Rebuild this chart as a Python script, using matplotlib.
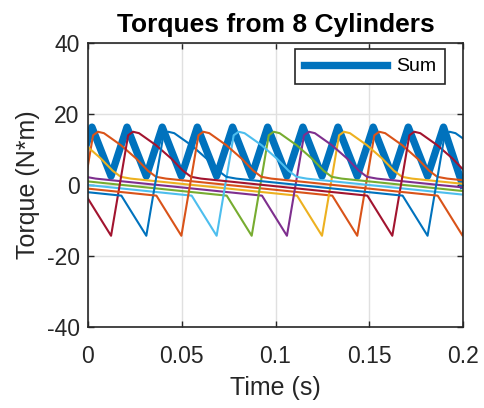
import numpy as np
import matplotlib
matplotlib.use('Agg')
import matplotlib.pyplot as plt

# MATLAB default colour order
colrs = [(0, 0.447, 0.741), (0.85, 0.325, 0.098), (0.929, 0.694, 0.125),
         (0.494, 0.184, 0.556), (0.466, 0.674, 0.188), (0.301, 0.745, 0.933),
         (0.635, 0.078, 0.184)]

# vertices (time in s, torque in N*m)
t_c1 = [-0.0197, -0.0064, 0.0027, 0.0053, 0.0085, 0.0176, 0.0256, 0.0320, 0.0363, 0.0416,
        0.1303, 0.1436, 0.1527, 0.1553, 0.1585, 0.1676, 0.1756, 0.1820, 0.1863, 0.1916, 0.2803]
v_c1 = [-3.0, -14.3, 14.0, 15.0, 14.6, 11.2, 7.5, 4.0, 2.3, 1.8,
        -3.0, -14.3, 14.0, 15.0, 14.6, 11.2, 7.5, 4.0, 2.3, 1.8, -3.0]
t_c2 = [-0.0103, -0.0012, 0.0068, 0.0132, 0.0175, 0.0228, 0.1115, 0.1248, 0.1339, 0.1365,
        0.1397, 0.1488, 0.1568, 0.1632, 0.1675, 0.1728, 0.2615]
v_c2 = [14.6, 11.2, 7.5, 4.0, 2.3, 1.8, -3.0, -14.3, 14.0, 15.0,
        14.6, 11.2, 7.5, 4.0, 2.3, 1.8, -3.0]
t_c3 = [-0.0055, -0.0012, 0.0041, 0.0928, 0.1061, 0.1152, 0.1178, 0.1210, 0.1301, 0.1381,
        0.1445, 0.1488, 0.1541, 0.2428]
v_c3 = [4.0, 2.3, 1.8, -3.0, -14.3, 14.0, 15.0, 14.6, 11.2, 7.5, 4.0, 2.3, 1.8, -3.0]
t_c4 = [-0.0147, 0.0740, 0.0873, 0.0964, 0.0990, 0.1022, 0.1113, 0.1193, 0.1257, 0.1300,
        0.1353, 0.2240]
v_c4 = [1.8, -3.0, -14.3, 14.0, 15.0, 14.6, 11.2, 7.5, 4.0, 2.3, 1.8, -3.0]
t_c5 = [-0.0334, 0.0553, 0.0686, 0.0777, 0.0803, 0.0835, 0.0926, 0.1006, 0.1070, 0.1113,
        0.1166, 0.2053]
v_c5 = [1.8, -3.0, -14.3, 14.0, 15.0, 14.6, 11.2, 7.5, 4.0, 2.3, 1.8, -3.0]
t_c6 = [-0.0010, 0.0123, 0.0214, 0.0240, 0.0272, 0.0363, 0.0443, 0.0507, 0.0550, 0.0603,
        0.1490, 0.1623, 0.1714, 0.1740, 0.1772, 0.1863, 0.1943, 0.2007]
v_c6 = [-3.0, -14.3, 14.0, 15.0, 14.6, 11.2, 7.5, 4.0, 2.3, 1.8,
        -3.0, -14.3, 14.0, 15.0, 14.6, 11.2, 7.5, 4.0]
t_c7 = [-0.0709, 0.0178, 0.0311, 0.0402, 0.0428, 0.0460, 0.0551, 0.0631, 0.0695, 0.0738,
        0.0791, 0.1678, 0.1811, 0.1902, 0.1928, 0.1960, 0.2051]
v_c7 = [1.8, -3.0, -14.3, 14.0, 15.0, 14.6, 11.2, 7.5, 4.0, 2.3,
        1.8, -3.0, -14.3, 14.0, 15.0, 14.6, 11.2]
t_c8 = [-0.0522, 0.0365, 0.0498, 0.0589, 0.0615, 0.0647, 0.0738, 0.0818, 0.0882, 0.0925,
        0.0978, 0.1865, 0.1998, 0.2089]
v_c8 = [1.8, -3.0, -14.3, 14.0, 15.0, 14.6, 11.2, 7.5, 4.0, 2.3, 1.8, -3.0, -14.3, 14.0]

t_sum = [-0.0064, 0.0021, 0.0123, 0.0208, 0.0311, 0.0396, 0.0498, 0.0583, 0.0686, 0.0771,
         0.0873, 0.0958, 0.1061, 0.1146, 0.1248, 0.1333, 0.1436, 0.1521, 0.1623, 0.1708,
         0.1811, 0.1896, 0.1998]
v_sum = [2.5, 16.3, 2.5, 16.3, 2.5, 16.3, 2.5, 16.3, 2.5, 16.3,
         2.5, 16.3, 2.5, 16.3, 2.5, 16.3, 2.5, 16.3, 2.5, 16.3,
         2.5, 16.3, 0.0]

cyl_t = [t_c1, t_c2, t_c3, t_c4, t_c5, t_c6, t_c7, t_c8]
cyl_v = [v_c1, v_c2, v_c3, v_c4, v_c5, v_c6, v_c7, v_c8]

xticks = [0, 0.05, 0.1, 0.15, 0.2]
xticklabels = ['0', '0.05', '0.1', '0.15', '0.2']
yticks = [-40, -20, 0, 20, 40]

plt.rcParams['font.family'] = ['Liberation Sans', 'DejaVu Sans']
plt.rcParams['axes.unicode_minus'] = False
axcol = (0.15, 0.15, 0.15)
labelsize = 16.5

fig = plt.figure(figsize=(4.85, 4.08), dpi=100)
ax = fig.add_axes([88/485, 81/408, 375/485, 284/408])

line_sum, = ax.plot(t_sum, v_sum, color=colrs[0], lw=5.3)
for i in range(8):
    ax.plot(cyl_t[i], cyl_v[i], color=colrs[(i+1) % 7], lw=1.5)

ax.set_xlim((0, 0.2))
ax.set_ylim((-40, 40))
ax.set_xticks(xticks)
ax.set_xticklabels(xticklabels)
ax.set_yticks(yticks)
ax.grid(color=(0.88, 0.88, 0.88), lw=1)
ax.set_axisbelow(True)
ax.tick_params(direction='in', length=4, width=1, colors=axcol, labelsize=labelsize,
               top=True, right=True, labeltop=False, labelright=False)
ax.tick_params(axis='x', pad=13)
ax.tick_params(axis='y', pad=6)
for s in ax.spines.values():
    s.set_color(axcol)
    s.set_linewidth(1.2)

ax.set_title('Torques from 8 Cylinders', fontsize=19, fontweight='bold', pad=8)
ax.set_xlabel('Time (s)', fontsize=18, color=axcol, labelpad=6)
ax.set_ylabel('Torque (N*m)', fontsize=18, color=axcol, labelpad=5)

leg = ax.legend([line_sum], ['Sum'], loc='upper right', bbox_to_anchor=(0.952, 0.979),
                fontsize=14, fancybox=False, framealpha=1, borderaxespad=0,
                handlelength=4.3, handletextpad=0.45, borderpad=0.45)
leg.get_frame().set_edgecolor(axcol)
leg.get_frame().set_linewidth(1.2)

fig.savefig('out.png', dpi=100)
